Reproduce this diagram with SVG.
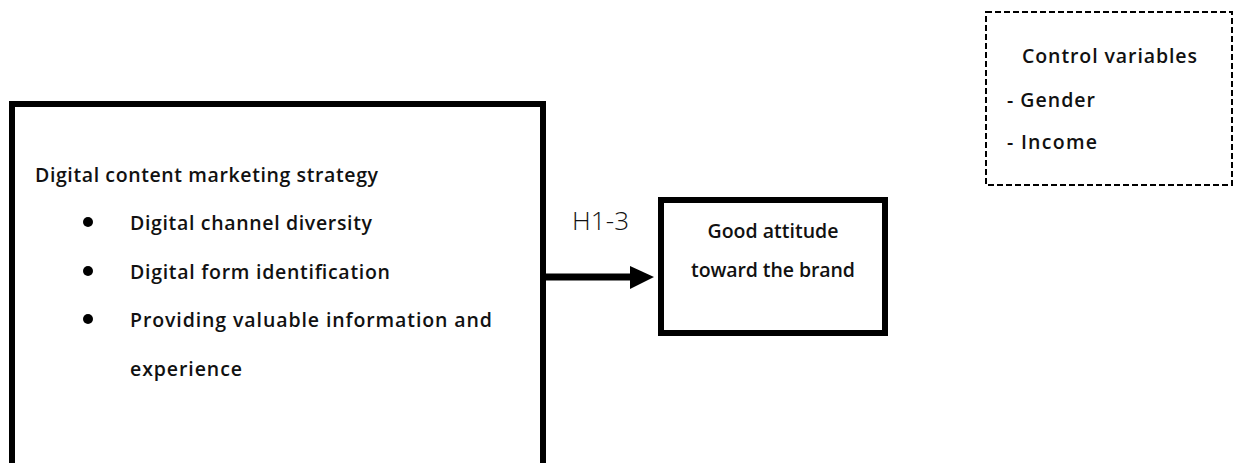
<svg xmlns="http://www.w3.org/2000/svg" width="1234" height="463" viewBox="0 0 1234 463">
<style>
  .box { fill: #ffffff; stroke: #000000; stroke-width: 6; }
  .dash { fill: #ffffff; stroke: #000000; stroke-width: 2; stroke-dasharray: 6 3; }
  .t { font-family: "Open Sans", "Noto Sans", "Liberation Sans", sans-serif; font-size: 19.5px; font-weight: 600; fill: #111111; }
  .h { font-family: "Open Sans", "Noto Sans", "Liberation Sans", sans-serif; font-size: 26px; font-weight: 300; fill: #111111; }
</style>
<rect width="1234" height="463" fill="#ffffff"/>
<g id="strategy">
  <rect class="box" x="12" y="104" width="531" height="400"/>
  <text class="t" x="35" y="182" textLength="343">Digital content marketing strategy</text>
  <circle cx="88" cy="222" r="5" fill="#000"/>
  <text class="t" x="130" y="230" textLength="242">Digital channel diversity</text>
  <circle cx="88" cy="271" r="5" fill="#000"/>
  <text class="t" x="130" y="279" textLength="260">Digital form identification</text>
  <circle cx="88" cy="319" r="5" fill="#000"/>
  <text class="t" x="130" y="327" textLength="362">Providing valuable information and</text>
  <text class="t" x="130" y="376" textLength="112">experience</text>
</g>
<g id="attitude">
  <rect class="box" x="661" y="200" width="224" height="133"/>
  <text class="t" x="773" y="238" text-anchor="middle" textLength="131">Good attitude</text>
  <text class="t" x="773" y="277" text-anchor="middle" textLength="164">toward the brand</text>
</g>
<g id="controls">
  <rect class="dash" x="986" y="12" width="246" height="173"/>
  <text class="t" x="1022" y="63" textLength="175">Control variables</text>
  <text class="t" x="1007" y="107" textLength="88">- Gender</text>
  <text class="t" x="1007" y="149" textLength="90">- Income</text>
</g>
<g id="connectors">
  <line x1="546" y1="277" x2="632" y2="277" stroke="#000" stroke-width="7"/>
  <polygon points="630,266 654,277 630,289" fill="#000"/>
  <text class="h" x="572" y="230" textLength="57">H1-3</text>
</g>
</svg>
